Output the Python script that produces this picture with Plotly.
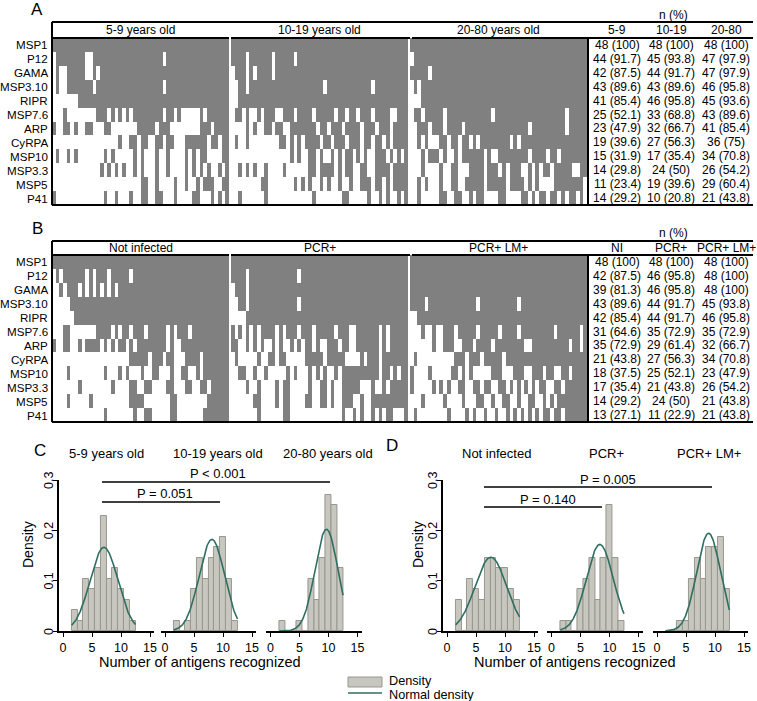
import numpy as np
import plotly.graph_objects as go

W, H = 757, 701
FONT = "Liberation Sans"

antigens = ["MSP1", "P12", "GAMA", "MSP3.10", "RIPR", "MSP7.6", "ARP", "CyRPA",
            "MSP10", "MSP3.3", "MSP5", "P41"]

# Heatmap rows: "-i,j" = all recognized except listed subjects; "+i,j" = only listed subjects
age_5_9 = ["-", "-0,9,10,30", "-0,2,3,9,10,12", "-0,2,3,11,30", "-0,1,2,3,4,5,6",
           "+3,12,13,14,16,18,20,22,23,24,25,26,27,28,29,31,32,34,40,42,43,44,45,46,47",
           "+0,3,4,6,9,10,14,15,23,24,25,26,27,29,30,31,40,41,42,44,45,46,47",
           "+18,21,22,24,25,28,29,31,32,36,37,38,39,40,41,43,44,46,47",
           "+1,4,6,14,16,22,24,28,31,36,38,40,41,46,47",
           "+13,15,17,19,22,24,28,31,36,38,40,42,45,47",
           "+24,25,28,33,36,39,41,42,43,46,47",
           "+0,14,17,21,24,25,28,29,33,38,39,43,45,47"]
age_10_19 = ["-", "-4,11,17", "-0,4,6,11", "-0,1,4,25,38", "-0,1",
             "-0,3,5,6,8,12,13,17,22,28,31,34,38,43,44",
             "-0,1,2,3,5,7,8,11,14,15,23,26,30,35,39,43",
             "+1,4,13,14,16,18,20,21,22,23,25,26,28,29,30,32,33,34,36,37,39,40,42,44,45,46,47",
             "+16,18,21,22,24,27,29,31,32,34,36,39,40,41,43,45,47",
             "+2,4,6,9,14,21,22,24,25,26,27,29,31,32,35,36,39,40,41,42,44,45,46,47",
             "+8,9,17,19,21,24,26,29,32,35,36,37,39,40,42,44,45,46,47",
             "+2,9,22,30,31,37,40,42,45,47"]
age_20_80 = ["-", "-0", "-5", "-0,2", "-0,1,2", "-0,3,9,22,42", "-0,1,5,9,14,32,42",
             "-0,1,3,5,6,7,10,13,16,18,27,29",
             "-0,1,2,4,8,10,11,13,20,22,23,32,37,40",
             "-0,1,2,4,5,6,7,9,10,13,14,15,20,24,26,30,31,33,35,38,44,45",
             "-0,1,3,5,6,7,9,10,13,14,20,26,31,33,35,36,37,38,47",
             "+2,8,9,12,13,16,18,19,24,25,30,31,33,35,36,38,39,41,43,44,46"]
not_infected = ["-", "-0,2,9,11,15,21", "-0,1,3,7,9,11,13,15,17", "-0,1,2,3,4", "-0,1,2,3,4,5",
                "-0,1,2,5,6,7,8,9,10,11,16,18,21,25,31,33,37",
                "-1,2,5,6,8,13,15,17,20,22,31,33,34",
                "+21,22,23,24,25,27,28,29,31,32,36,37,38,39,41,42,43,44,45,46,47",
                "+4,14,18,20,24,27,28,32,35,36,39,41,42,43,44,45,46,47",
                "+7,16,21,22,25,26,31,32,36,37,40,41,43,44,45,46,47",
                "+4,10,21,22,23,24,32,33,42,43,44,45,46,47",
                "+14,22,25,26,32,33,41,42,43,44,45,46,47"]
pcr_pos = ["-", "-4,18", "-0,4", "-0,1,4,18", "-0,1,2,3",
           "-1,3,5,7,12,14,18,22,28,32,33,40,42",
           "-2,3,5,7,9,10,12,14,15,17,19,22,24,25,29,32,33,40,42",
           "+1,7,10,11,13,14,20,21,22,23,24,26,27,28,29,30,35,37,38,39,41,42,43,44,45,46,47",
           "+2,3,6,9,15,17,21,23,25,28,30,31,32,33,34,35,36,37,38,39,41,42,44,46,47",
           "+4,7,12,14,15,21,24,25,27,30,31,32,33,34,38,41,43,44,45,46,47",
           "+6,7,12,14,15,20,21,24,25,27,30,31,32,35,38,39,40,41,42,43,44,45,46,47",
           "+7,14,15,30,33,35,38,40,42,43,47"]
pcr_lm_pos = ["-", "-", "-", "-4,18,29", "-0,1",
              "-0,1,2,4,5,7,8,12,18,24,29,39,46",
              "-0,1,2,3,4,5,7,8,12,13,17,22,31,32,43,46",
              "-0,2,3,4,5,6,7,8,9,10,11,15,19,25",
              "+0,5,11,12,14,16,22,23,24,28,29,30,33,34,35,37,38,41,42,44,45,46,47",
              "+0,6,8,10,13,14,17,18,20,21,24,25,27,29,31,33,35,36,39,40,42,43,44,45,46,47",
              "+3,9,14,18,19,22,25,26,29,32,33,36,38,40,41,42,43,44,45,46,47",
              "+1,10,15,17,20,23,26,28,30,32,34,36,37,39,40,42,43,44,45,46,47"]

groups_A = ["5-9 years old", "10-19 years old", "20-80 years old"]
groups_B = ["Not infected", "PCR+", "PCR+ LM+"]
tab_head_A = ["5-9", "10-19", "20-80"]
tab_head_B = ["NI", "PCR+", "PCR+ LM+"]

tab_5_9 = ["48 (100)", "44 (91.7)", "42 (87.5)", "43 (89.6)", "41 (85.4)", "25 (52.1)",
           "23 (47.9)", "19 (39.6)", "15 (31.9)", "14 (29.8)", "11 (23.4)", "14 (29.2)"]
tab_10_19 = ["48 (100)", "45 (93.8)", "44 (91.7)", "43 (89.6)", "46 (95.8)", "33 (68.8)",
             "32 (66.7)", "27 (56.3)", "17 (35.4)", "24 (50)", "19 (39.6)", "10 (20.8)"]
tab_20_80 = ["48 (100)", "47 (97.9)", "47 (97.9)", "46 (95.8)", "45 (93.6)", "43 (89.6)",
             "41 (85.4)", "36 (75)", "34 (70.8)", "26 (54.2)", "29 (60.4)", "21 (43.8)"]
tab_ni = ["48 (100)", "42 (87.5)", "39 (81.3)", "43 (89.6)", "42 (85.4)", "31 (64.6)",
          "35 (72.9)", "21 (43.8)", "18 (37.5)", "17 (35.4)", "14 (29.2)", "13 (27.1)"]
tab_pcr = ["48 (100)", "46 (95.8)", "46 (95.8)", "44 (91.7)", "44 (91.7)", "35 (72.9)",
           "29 (61.4)", "27 (56.3)", "25 (52.1)", "21 (43.8)", "24 (50)", "11 (22.9)"]
tab_pcrlm = ["48 (100)", "48 (100)", "48 (100)", "45 (93.8)", "46 (95.8)", "35 (72.9)",
             "32 (66.7)", "34 (70.8)", "23 (47.9)", "26 (54.2)", "21 (43.8)", "21 (43.8)"]

# Histogram: number of antigens recognized (2..12), subject counts (n = 48 per group)
n_antigens = list(range(2, 13))
hist_5_9 = [2, 1, 5, 4, 6, 11, 5, 6, 4, 3, 1]
hist_10_19 = [1, 0, 1, 4, 7, 5, 7, 8, 9, 5, 1]
hist_20_80 = [1, 0, 0, 1, 0, 5, 3, 7, 13, 12, 6]
hist_ni = [3, 0, 5, 4, 3, 7, 7, 6, 6, 4, 3]
hist_pcr = [1, 1, 0, 4, 5, 7, 3, 7, 12, 7, 1]
hist_pcrlm = [0, 0, 1, 1, 5, 7, 5, 8, 8, 9, 4]

y_ticks = [0, 0.1, 0.2, 0.3]
y_ticklabels = ["0", "0.1", "0.2", "0.3"]
x_ticks = [0, 5, 10, 15]

p_labels_C = ["P < 0.001", "P = 0.051"]
p_labels_D = ["P = 0.005", "P = 0.140"]


def px(x):
    return x / W


def py(y):
    return 1 - y / H


def build(rows):
    m = []
    for s in rows:
        mode, rest = s[0], s[1:]
        idx = [int(t) for t in rest.split(",") if t]
        if mode == "-":
            r = [1] * 48
            for i in idx:
                r[i] = 0
        else:
            r = [0] * 48
            for i in idx:
                r[i] = 1
        m.append(r)
    return m


fig = go.Figure()
shapes = []
ann = []
GAP = 0.54
GW = 48 + GAP
GRAY = "#808080"


def txt(x, y, s, size=12, xanchor="center", xref="paper", yref="paper", angle=0):
    ann.append(dict(x=x, y=y, text=s, showarrow=False, xref=xref, yref=yref,
                    xanchor=xanchor, yanchor="middle", textangle=angle, borderpad=0,
                    font=dict(family=FONT, size=size, color="black")))


def hline(x0, x1, y, w=2, color="black"):
    shapes.append(dict(type="line", xref="paper", yref="paper", x0=px(x0), x1=px(x1),
                       y0=py(y), y1=py(y), line=dict(color=color, width=w)))


def vline(x, y0, y1, w=2):
    shapes.append(dict(type="line", xref="paper", yref="paper", x0=px(x), x1=px(x),
                       y0=py(y0), y1=py(y1), line=dict(color="black", width=w)))


panels = [
    dict(ax="", blocks=[age_5_9, age_10_19, age_20_80], groups=groups_A, heads=tab_head_A,
         tabs=[tab_5_9, tab_10_19, tab_20_80], top=22, hb=38, bot=205, letter="A", ly=9, ny=15),
    dict(ax="2", blocks=[not_infected, pcr_pos, pcr_lm_pos], groups=groups_B, heads=tab_head_B,
         tabs=[tab_ni, tab_pcr, tab_pcrlm], top=241, hb=255, bot=422, letter="B", ly=228, ny=233),
]

tab_x = [617, 671, 726]
for p in panels:
    for g, blk in enumerate(p["blocks"]):
        fig.add_trace(go.Heatmap(z=build(blk), x0=g * GW + 0.5, dx=1, y0=0, dy=1,
                                 xaxis="x" + p["ax"], yaxis="y" + p["ax"],
                                 colorscale=[[0, "#ffffff"], [1, GRAY]], zmin=0, zmax=1,
                                 showscale=False, hoverinfo="skip"))
    top, hb, bot = p["top"], p["hb"], p["bot"]
    rh = (bot - hb) / 12
    hline(52, 753, top)
    hline(52, 229, hb)
    hline(231, 410, hb)
    hline(412, 753, hb)
    hline(52, 753, bot)
    vline(52, top, bot)
    vline(588, hb, bot)
    hc = (top + hb) / 2
    for g, name in enumerate(p["groups"]):
        x0 = 52 + g * (177 + 2)
        txt(px(x0 + 88.5), py(hc), name)
    for j, h in enumerate(p["heads"]):
        txt(px(tab_x[j]), py(hc), h)
    txt(px(673), py(p["ny"]), "n (%)")
    txt(px(37), py(p["ly"]), p["letter"], size=17)
    for i, a in enumerate(antigens):
        yc = hb + rh * (i + 0.5)
        txt(px(48.5), py(yc), a, size=11.6, xanchor="right")
        for j, t in enumerate(p["tabs"]):
            txt(px(tab_x[j]), py(yc), t[i])

layout = dict(width=W, height=H, template="none",
              margin=dict(l=0, r=0, t=0, b=0, pad=0, autoexpand=False),
              paper_bgcolor="white", plot_bgcolor="rgba(0,0,0,0)", showlegend=False,
              font=dict(family=FONT, color="black"))
layout["xaxis"] = dict(domain=[px(52), px(587)], range=[0, 3 * 48 + 2 * GAP], visible=False,
                       automargin=False)
layout["yaxis"] = dict(domain=[py(205), py(38)], range=[11.5, -0.5], visible=False,
                       automargin=False)
layout["xaxis2"] = dict(domain=[px(52), px(587)], range=[0, 3 * 48 + 2 * GAP], visible=False,
                        automargin=False)
layout["yaxis2"] = dict(domain=[py(422), py(255)], range=[11.5, -0.5], visible=False,
                        automargin=False)

BAR_FILL = "#c7c7bf"
BAR_LINE = "#97978f"
CURVE = "#2f6e61"
UNIT = 5.8
XR = [-0.7, 15.7]
DW = (XR[1] - XR[0]) * UNIT
hist_panels = [
    dict(data=[hist_5_9, hist_10_19, hist_20_80], zeros=[63, 165, 270.5], yax=3, xax0=3,
         titles=groups_A, tcx=[106, 218, 328]),
    dict(data=[hist_ni, hist_pcr, hist_pcrlm], zeros=[447, 551.5, 657], yax=4, xax0=6,
         titles=groups_B, tcx=[496, 606, 709]),
]
Y0, Y1 = 631, 480
for hp in hist_panels:
    yname = "yaxis%d" % hp["yax"]
    for k, (cnts, z0) in enumerate(zip(hp["data"], hp["zeros"])):
        xn = hp["xax0"] + k
        xa = "x%d" % xn
        ya = "y%d" % hp["yax"]
        dens = [c / 48 for c in cnts]
        fig.add_trace(go.Bar(x=n_antigens, y=dens, width=1, xaxis=xa, yaxis=ya,
                             marker=dict(color=BAR_FILL, line=dict(color=BAR_LINE, width=1)),
                             hoverinfo="skip"))
        vals = np.repeat(n_antigens, cnts)
        mu, sd = vals.mean(), vals.std(ddof=1)
        xs = np.linspace(1.5, 12.5, 200)
        ys = np.exp(-0.5 * ((xs - mu) / sd) ** 2) / (sd * np.sqrt(2 * np.pi))
        fig.add_trace(go.Scatter(x=xs, y=ys, mode="lines", xaxis=xa, yaxis=ya,
                                 line=dict(color=CURVE, width=1.6), hoverinfo="skip"))
        left = z0 + XR[0] * UNIT
        layout["xaxis%d" % xn] = dict(domain=[px(left), px(left + DW)], range=XR,
                                      anchor=ya, showline=True, linecolor="black", linewidth=1.5,
                                      ticks="outside", ticklen=4, tickwidth=1.2, tickcolor="black",
                                      tickvals=x_ticks, showgrid=False, zeroline=False,
                                      automargin=False,
                                      tickfont=dict(family=FONT, size=12.5, color="black"))
        txt(px(hp["tcx"][k]), py(453), hp["titles"][k], size=13)
        if k == 0:
            layout[yname] = dict(domain=[py(Y0), py(Y1)], range=[0, 0.3], anchor=xa,
                                 showline=True, linecolor="black", linewidth=1.5,
                                 ticks="outside", ticklen=4, tickwidth=1.2, tickcolor="black",
                                 tickvals=y_ticks, showticklabels=False,
                                 showgrid=False, zeroline=False, automargin=False)
            ax_x = left
            for tv, tl in zip(y_ticks, y_ticklabels):
                ann.append(dict(x=px(ax_x - 10), y=tv, xref="paper", yref=ya, text=tl,
                                showarrow=False, textangle=-90, xanchor="center",
                                yanchor="middle", borderpad=0,
                                font=dict(family=FONT, size=12.5, color="black")))

# axis titles, panel letters
txt(px(28), py(545), "Density", size=14, angle=-90)
txt(px(418), py(545), "Density", size=14, angle=-90)
txt(px(200), py(662), "Number of antigens recognized", size=14.5)
txt(px(575), py(662), "Number of antigens recognized", size=14.5)
txt(px(40), py(450), "C", size=17)
txt(px(392), py(445), "D", size=17)

# p-value brackets
hline(102, 330, 482, w=1.5)
hline(102, 220, 502, w=1.5)
txt(px(218), py(473), p_labels_C[0], size=13)
txt(px(165), py(494), p_labels_C[1], size=13)
hline(484, 712, 487, w=1.5)
hline(484, 602, 507, w=1.5)
txt(px(608), py(479), p_labels_D[0], size=13)
txt(px(548), py(499), p_labels_D[1], size=13)

# legend
shapes.append(dict(type="rect", xref="paper", yref="paper", x0=px(348), x1=px(382),
                   y0=py(687), y1=py(677), fillcolor=BAR_FILL, line=dict(color=BAR_LINE, width=1)))
hline(348, 382, 693, w=1.6, color=CURVE)
txt(px(388), py(680.5), "Density", size=12.7, xanchor="left")
txt(px(388), py(694.5), "Normal density", size=12.7, xanchor="left")

layout["shapes"] = shapes
layout["annotations"] = ann
layout["bargap"] = 0
fig.update_layout(**layout)
fig.write_html("out.html", config={"displayModeBar": False})

with open("out.html", encoding="utf-8") as f:
    html = f.read()
html = html.replace("<head>", "<head><style>html,body{margin:0;padding:0;overflow:hidden;}</style>", 1)
with open("out.html", "w", encoding="utf-8") as f:
    f.write(html)
